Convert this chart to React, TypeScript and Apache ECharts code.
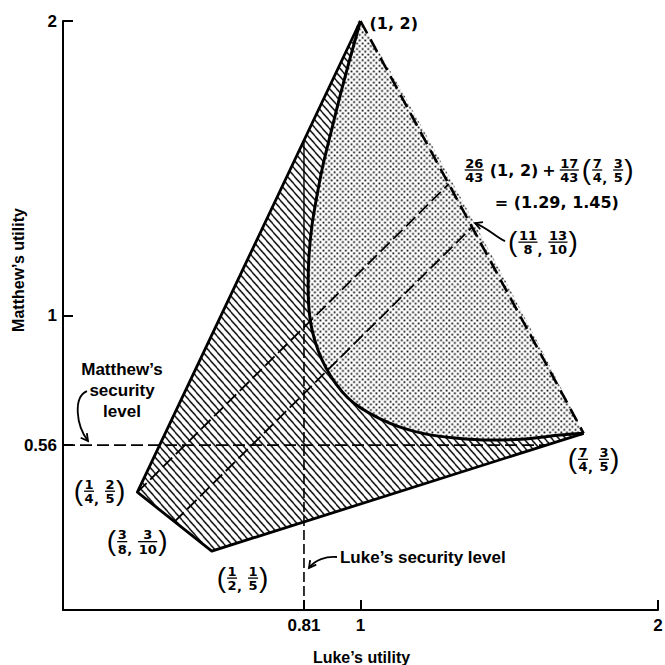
import React, { useEffect, useRef } from 'react';
import * as echarts from 'echarts';

const FONT = '"Liberation Sans", Arial, Helvetica, sans-serif';
const MATH_FONT = '"DejaVu Sans", "Liberation Sans", sans-serif';

const X_TICKS = [0.81, 1, 2];
const Y_TICKS = [0.56, 1, 2];

// Vertices of the feasible region, in the order of its solid boundary
const HULL_X = [1, 0.25, 0.375, 0.5, 1.75];
const HULL_Y = [2, 0.4, 0.3, 0.2, 0.6];

// Pareto frontier (dashed)
const FRONTIER_X = [1, 1.75];
const FRONTIER_Y = [2, 0.6];

// Curved boundary of the stippled region
const CURVE_X = [1, 0.965, 0.931, 0.901, 0.874, 0.854, 0.837, 0.827, 0.824, 0.827, 0.837, 0.857, 0.884, 0.918, 0.958, 1.005, 1.066, 1.133, 1.217, 1.318, 1.435, 1.553, 1.671, 1.75];
const CURVE_Y = [2, 1.874, 1.745, 1.623, 1.511, 1.409, 1.307, 1.205, 1.104, 1.019, 0.951, 0.883, 0.822, 0.767, 0.72, 0.683, 0.649, 0.621, 0.598, 0.584, 0.577, 0.581, 0.594, 0.6];

const LUKE_SECURITY = 0.81;
const MATTHEW_SECURITY = 0.56;
const VERTICAL_SOLID_FROM = 1.0;

const WEIGHTS = [26 / 43, 17 / 43];
const DIAG_FROM_X = [0.25, 0.375];
const DIAG_FROM_Y = [0.4, 0.3];
const DIAG_TO_X = [WEIGHTS[0] * 1 + WEIGHTS[1] * 1.75, 11 / 8];
const DIAG_TO_Y = [WEIGHTS[0] * 2 + WEIGHTS[1] * 0.6, 13 / 10];

// where the security-level lines meet the boundary of the region
const LEFT_EDGE_T = (HULL_X[0] - LUKE_SECURITY) / (HULL_X[0] - HULL_X[1]);
const VERTICAL_TOP = HULL_Y[0] + LEFT_EDGE_T * (HULL_Y[1] - HULL_Y[0]);
const HORIZONTAL_END = HULL_X[3] + ((MATTHEW_SECURITY - HULL_Y[3]) / (HULL_Y[4] - HULL_Y[3])) * (HULL_X[4] - HULL_X[3]);

function makeHatch() {
  const s = 3, w = 7, h = 8;
  const c = document.createElement('canvas');
  c.width = w * s; c.height = h * s;
  const g = c.getContext('2d')!;
  g.fillStyle = '#fff';
  g.fillRect(0, 0, c.width, c.height);
  g.strokeStyle = '#000';
  g.lineWidth = 1.45 * s;
  for (const dx of [-w, 0, w]) {
    g.beginPath();
    g.moveTo((dx - w) * s, -h * s);
    g.lineTo((dx + 2 * w) * s, 2 * h * s);
    g.stroke();
  }
  return { image: c, repeat: 'repeat', imageWidth: w, imageHeight: h };
}

function makeDots() {
  const s = 3, w = 5.6, h = 5.6;
  const c = document.createElement('canvas');
  c.width = Math.round(w * s); c.height = Math.round(h * s);
  const g = c.getContext('2d')!;
  g.fillStyle = '#fff';
  g.fillRect(0, 0, c.width, c.height);
  g.fillStyle = '#000';
  const d = 1.75;
  g.fillRect((1.4 - d / 2) * s, (1.4 - d / 2) * s, d * s, d * s);
  g.fillRect((4.2 - d / 2) * s, (4.2 - d / 2) * s, d * s, d * s);
  return { image: c, repeat: 'repeat', imageWidth: w, imageHeight: h };
}

const measureCtx = document.createElement('canvas').getContext('2d')!;
function textW(s: string, fs: number, weight: string, family: string) {
  measureCtx.font = `${weight} ${fs}px ${family}`;
  return measureCtx.measureText(s).width;
}

function txt(s: string, x: number, y: number, fs: number, weight = 'bold', align = 'left', family = FONT, extra: any = {}) {
  return {
    type: 'text', x, y, z: 100, silent: true, ...extra,
    style: { text: s, fontSize: fs, fontWeight: weight, fontFamily: family, fill: '#000', align, textAlign: align, verticalAlign: 'middle', textVerticalAlign: 'middle' },
  };
}

type Piece =
  | { k: 't'; s: string; fs: number; w?: string; dy?: number; f?: string }
  | { k: 'f'; n: string; d: string }
  | { k: 'g'; w: number };

const FRAC_FS = 13;
function pieceWidth(p: Piece) {
  if (p.k === 'g') return p.w;
  if (p.k === 'f') return Math.max(textW(p.n, FRAC_FS, 'bold', MATH_FONT), textW(p.d, FRAC_FS, 'bold', MATH_FONT)) + 1;
  return textW(p.s, p.fs, p.w || 'bold', p.f || MATH_FONT);
}

function row(pieces: Piece[], x: number, cy: number, align: 'left' | 'center' | 'right') {
  const ws = pieces.map(pieceWidth);
  const total = ws.reduce((a, b) => a + b, 0);
  let cur = align === 'left' ? x : align === 'center' ? x - total / 2 : x - total;
  const out: any[] = [];
  pieces.forEach((p, i) => {
    const w = ws[i];
    if (p.k === 'f') {
      out.push(txt(p.n, cur + w / 2, cy - 7, FRAC_FS, 'bold', 'center', MATH_FONT));
      out.push({ type: 'line', z: 100, silent: true, shape: { x1: cur, y1: cy, x2: cur + w, y2: cy }, style: { stroke: '#000', lineWidth: 1.3 } });
      out.push(txt(p.d, cur + w / 2, cy + 7.5, FRAC_FS, 'bold', 'center', MATH_FONT));
    } else if (p.k === 't') {
      out.push(txt(p.s, cur, cy + (p.dy || 0), p.fs, p.w || 'bold', 'left', p.f || MATH_FONT));
    }
    cur += w;
  });
  return out;
}

const pair = (n1: string, d1: string, n2: string, d2: string): Piece[] => [
  { k: 't', s: '(', fs: 28, w: 'normal', dy: -1, f: FONT },
  { k: 'g', w: 1 },
  { k: 'f', n: n1, d: d1 },
  { k: 't', s: ',', fs: 13, dy: 8 },
  { k: 'g', w: 6 },
  { k: 'f', n: n2, d: d2 },
  { k: 'g', w: 1 },
  { k: 't', s: ')', fs: 28, w: 'normal', dy: -1, f: FONT },
];

function arrow(x1: number, y1: number, c1x: number, c1y: number, c2x: number, c2y: number, x2: number, y2: number) {
  const a = Math.atan2(y2 - c2y, x2 - c2x);
  const len = 8, sp = 0.5;
  return [
    { type: 'bezierCurve', z: 100, silent: true, shape: { x1, y1, cpx1: c1x, cpy1: c1y, cpx2: c2x, cpy2: c2y, x2, y2 }, style: { stroke: '#000', lineWidth: 1.8, fill: 'none' } },
    {
      type: 'polyline', z: 100, silent: true,
      shape: { points: [[x2 - len * Math.cos(a - sp), y2 - len * Math.sin(a - sp)], [x2, y2], [x2 - len * Math.cos(a + sp), y2 - len * Math.sin(a + sp)]] },
      style: { stroke: '#000', lineWidth: 1.8, fill: 'none' },
    },
  ];
}

function buildGraphics(px: (x: number, y: number) => number[]) {
  const els: any[] = [];
  // (1, 2)
  const [ax, ay] = px(HULL_X[0], HULL_Y[0]);
  els.push(txt('(1, 2)', ax + 9, ay + 2, 16, 'bold', 'left', MATH_FONT));

  // combination label
  const [qx, qy] = px(DIAG_TO_X[0], DIAG_TO_Y[0]);
  els.push(...row([
    { k: 'f', n: '26', d: '43' }, { k: 'g', w: 6 },
    { k: 't', s: '(1, 2)', fs: 16 }, { k: 'g', w: 4 },
    { k: 't', s: '+', fs: 16 }, { k: 'g', w: 4 },
    { k: 'f', n: '17', d: '43' }, { k: 'g', w: 3 },
    ...pair('7', '4', '3', '5'),
  ], qx + 16, qy - 14, 'left'));
  els.push(txt('= (1.29, 1.45)', qx + 46, qy + 18, 16, 'bold', 'left', MATH_FONT));

  // (11/8, 13/10)
  const [rx, ry] = px(DIAG_TO_X[1], DIAG_TO_Y[1]);
  els.push(...row(pair('11', '8', '13', '10'), rx + 36, ry + 15, 'left'));
  els.push(...arrow(rx + 33, ry + 14, rx + 25, ry + 11, rx + 16, ry + 1, rx + 3, ry - 4));

  // vertex labels
  const [sx, sy] = px(HULL_X[4], HULL_Y[4]);
  els.push(...row(pair('7', '4', '3', '5'), sx - 16, sy + 26, 'left'));
  const [v1x, v1y] = px(HULL_X[1], HULL_Y[1]);
  els.push(...row(pair('1', '4', '2', '5'), v1x - 12, v1y - 1, 'right'));
  const [v2x, v2y] = px(HULL_X[2], HULL_Y[2]);
  els.push(...row(pair('3', '8', '3', '10'), v2x - 7, v2y + 20, 'right'));
  const [v3x, v3y] = px(HULL_X[3], HULL_Y[3]);
  els.push(...row(pair('1', '2', '1', '5'), v3x + 5, v3y + 27, 'left'));

  // Luke's security level
  const [lx, ly] = px(LUKE_SECURITY, 0);
  els.push(txt('Luke\u2019s security level', lx + 36, ly - 53, 17, 'bold', 'left'));
  els.push(...arrow(lx + 33, ly - 53, lx + 22, ly - 54, lx + 11, ly - 50, lx + 5, ly - 42));

  // Matthew's security level
  const [mx, my] = px(0, MATTHEW_SECURITY);
  els.push({
    type: 'text', x: mx + 59, y: my - 55, z: 100, silent: true,
    style: { text: 'Matthew\u2019s\nsecurity\nlevel', fontSize: 17, fontWeight: 'bold', fontFamily: FONT, fill: '#000', lineHeight: 21, align: 'center', textAlign: 'center', verticalAlign: 'middle', textVerticalAlign: 'middle' },
  });
  els.push(...arrow(mx + 24, my - 54, mx + 10, my - 48, mx + 13, my - 20, mx + 25, my - 4));

  // axis titles
  const [tx] = px(1, 0);
  els.push(txt('Luke\u2019s utility', tx + 1, ly + 47, 16, 'bold', 'center'));
  els.push(txt('Matthew\u2019s utility', 18, 270, 16, 'bold', 'center', FONT, { rotation: Math.PI / 2 }));
  return els;
}

const pts = (xs: number[], ys: number[]) => xs.map((x, i) => [x, ys[i]]);

function lineSeries(data: number[][], width: number, type: any, z: number, extra: any = {}) {
  return {
    type: 'line', data, symbol: 'none', showSymbol: false, silent: true, z,
    lineStyle: { color: '#000', width, type, cap: 'butt', join: 'round' },
    ...extra,
  };
}

function buildOption() {
  const hatch = makeHatch();
  const dots = makeDots();
  const axisLabel = { color: '#000', fontSize: 17, fontWeight: 'bold', fontFamily: FONT };
  return {
    animation: false,
    backgroundColor: '#fff',
    grid: { left: 63, right: 7, top: 21, bottom: 55, containLabel: false, outerBoundsMode: 'none' },
    xAxis: {
      type: 'value', min: 0, max: 2,
      axisLine: { onZero: false, lineStyle: { color: '#000', width: 2 } },
      axisTick: { show: true, inside: true, length: 10, customValues: X_TICKS, lineStyle: { color: '#000', width: 2 } },
      axisLabel: { ...axisLabel, margin: 7, customValues: X_TICKS, formatter: (v: number) => String(v) },
      splitLine: { show: false },
    },
    yAxis: {
      type: 'value', min: 0, max: 2,
      axisLine: { onZero: false, lineStyle: { color: '#000', width: 2 } },
      axisTick: { show: true, inside: true, length: 10, customValues: Y_TICKS, lineStyle: { color: '#000', width: 2 } },
      axisLabel: { ...axisLabel, margin: 6, customValues: Y_TICKS, formatter: (v: number) => String(v) },
      splitLine: { show: false },
    },
    series: [
      {
        type: 'custom', silent: true, z: 1, data: [[0, 0]],
        renderItem: (_p: any, api: any) => ({
          type: 'polygon',
          shape: { points: HULL_X.map((x, i) => api.coord([x, HULL_Y[i]])) },
          style: { fill: hatch, stroke: null },
        }),
      },
      {
        type: 'custom', silent: true, z: 2, data: [[0, 0]],
        renderItem: (_p: any, api: any) => ({
          type: 'polygon',
          shape: { points: CURVE_X.map((x, i) => api.coord([x, CURVE_Y[i]])), smooth: 0.25 },
          style: { fill: dots, stroke: null },
        }),
      },
      lineSeries([[LUKE_SECURITY, 0], [LUKE_SECURITY, VERTICAL_SOLID_FROM]], 1.6, [10, 4], 3),
      lineSeries([[LUKE_SECURITY, VERTICAL_SOLID_FROM], [LUKE_SECURITY, VERTICAL_TOP]], 1.4, 'solid', 3),
      lineSeries([[0, MATTHEW_SECURITY], [HORIZONTAL_END, MATTHEW_SECURITY]], 1.6, [12, 5], 3),
      lineSeries([[DIAG_FROM_X[0], DIAG_FROM_Y[0]], [DIAG_TO_X[0], DIAG_TO_Y[0]]], 1.8, [13, 5], 3),
      lineSeries([[DIAG_FROM_X[1], DIAG_FROM_Y[1]], [DIAG_TO_X[1], DIAG_TO_Y[1]]], 1.8, [13, 5], 3),
      lineSeries(pts(FRONTIER_X, FRONTIER_Y), 2.6, [14, 7], 4),
      lineSeries(pts(HULL_X, HULL_Y), 2.8, 'solid', 5),
      lineSeries(pts(CURVE_X, CURVE_Y), 3, 'solid', 5, { smooth: 0.25 }),
    ],
  };
}

export default function App() {
  const ref = useRef<HTMLDivElement>(null);
  useEffect(() => {
    const chart = echarts.init(ref.current!, null, { renderer: 'svg' });
    chart.setOption(buildOption() as any);
    const px = (x: number, y: number) => chart.convertToPixel({ gridIndex: 0 }, [x, y]) as number[];
    chart.setOption({ graphic: { elements: buildGraphics(px) } } as any);
    return () => chart.dispose();
  }, []);
  return <div ref={ref} style={{ position: 'fixed', left: 0, top: 0, width: 665, height: 665, background: '#fff' }} />;
}
